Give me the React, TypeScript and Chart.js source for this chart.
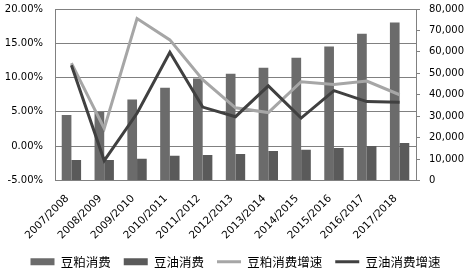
import React, { useEffect, useRef } from "react";
import { Chart, registerables } from "chart.js";

Chart.register(...registerables);

const categories = [
  "2007/2008", "2008/2009", "2009/2010", "2010/2011", "2011/2012", "2012/2013",
  "2013/2014", "2014/2015", "2015/2016", "2016/2017", "2017/2018",
];
const mealConsumption = [30600, 31900, 37800, 43300, 47600, 49800, 52600, 57300, 62500, 68500, 73700];
const oilConsumption = [9600, 9600, 10100, 11600, 11900, 12400, 13800, 14300, 15200, 16100, 17500];
const mealGrowth = [12.1, 2.6, 18.6, 15.5, 9.7, 5.6, 4.9, 9.4, 9.0, 9.5, 7.5];
const oilGrowth = [11.8, -2.1, 4.8, 13.7, 5.7, 4.3, 8.8, 4.1, 8.1, 6.5, 6.4];
const seriesNames = ["豆粕消费", "豆油消费", "豆粕消费增速", "豆油消费增速"];

const FONT = "'DejaVu Sans', Verdana, sans-serif";
const CJK = "'Noto Sans CJK SC', 'DejaVu Sans', sans-serif";
const AXIS = "#808080";

const fixVertical = (s: any) => {
  s.width = 55;
  s.paddingTop = 3;
  s.paddingBottom = 3;
};

export default function App() {
  const ref = useRef<HTMLCanvasElement | null>(null);
  useEffect(() => {
    if (!ref.current) return;
    const chart = new Chart(ref.current, {
      type: "bar",
      data: {
        labels: categories,
        datasets: [
          {
            type: "bar",
            label: seriesNames[0],
            data: mealConsumption,
            backgroundColor: "#6b6b6b",
            borderWidth: 0,
            yAxisID: "y1",
            order: 2,
            categoryPercentage: 0.59,
            barPercentage: 1.0,
          },
          {
            type: "bar",
            label: seriesNames[1],
            data: oilConsumption,
            backgroundColor: "#5a5a5a",
            borderWidth: 0,
            yAxisID: "y1",
            order: 2,
            categoryPercentage: 0.59,
            barPercentage: 1.0,
          },
          {
            type: "line",
            label: seriesNames[2],
            data: mealGrowth,
            borderColor: "#a6a6a6",
            backgroundColor: "#a6a6a6",
            borderWidth: 3,
            pointRadius: 0,
            tension: 0,
            yAxisID: "y",
            order: 1,
          },
          {
            type: "line",
            label: seriesNames[3],
            data: oilGrowth,
            borderColor: "#404040",
            backgroundColor: "#404040",
            borderWidth: 3,
            pointRadius: 0,
            tension: 0,
            yAxisID: "y",
            order: 0,
          },
        ],
      },
      options: {
        animation: false,
        responsive: false,
        maintainAspectRatio: false,
        layout: { padding: { left: 0, right: 0, top: 9, bottom: 0 } },
        plugins: {
          tooltip: { enabled: false },
          legend: {
            position: "bottom",
            labels: {
              usePointStyle: true,
              pointStyleWidth: 24,
              boxHeight: 7,
              padding: 13,
              color: "#000",
              font: { family: CJK, size: 12.5 },
              sort: (a: any, b: any) => a.datasetIndex - b.datasetIndex,
              generateLabels: (chart: any) => {
                const items = Chart.defaults.plugins.legend.labels.generateLabels(chart);
                return items.map((it: any) => {
                  const ds = chart.data.datasets[it.datasetIndex];
                  if (ds.type === "line") {
                    it.pointStyle = "line";
                    it.strokeStyle = ds.borderColor;
                    it.lineWidth = 3;
                  } else {
                    it.pointStyle = "rect";
                    it.lineWidth = 0;
                    it.strokeStyle = ds.backgroundColor;
                  }
                  return it;
                });
              },
            },
          },
        },
        scales: {
          x: {
            offset: true,
            grid: { display: false, drawTicks: false },
            border: { display: true, color: AXIS, width: 1 },
            afterFit: (s: any) => { s.height = 62; },
            ticks: {
              minRotation: 45,
              maxRotation: 45,
              padding: 12,
              labelOffset: -4,
              color: "#000",
              font: { family: FONT, size: 10.5 },
              autoSkip: false,
            },
          },
          y: {
            position: "left",
            min: -5,
            max: 20,
            grid: { color: AXIS, drawTicks: false, lineWidth: 1 },
            border: { display: true, color: AXIS },
            afterFit: fixVertical,
            ticks: {
              stepSize: 5,
              padding: 12,
              color: "#000",
              font: { family: FONT, size: 10 },
              callback: (v: any) => Number(v).toFixed(2) + "%",
            },
          },
          y1: {
            position: "right",
            min: 0,
            max: 80000,
            grid: { drawOnChartArea: false, drawTicks: true, tickLength: 4, color: AXIS },
            border: { display: true, color: AXIS },
            afterFit: fixVertical,
            ticks: {
              stepSize: 10000,
              padding: 9,
              color: "#000",
              font: { family: FONT, size: 10 },
              callback: (v: any) => Number(v).toLocaleString("en-US"),
            },
          },
        },
      },
    });
    return () => chart.destroy();
  }, []);
  return (
    <div style={{ position: "fixed", left: 0, top: 0, width: 471, height: 278, background: "#fff" }}>
      <canvas ref={ref} width={471} height={278} style={{ width: 471, height: 278 }} />
    </div>
  );
}
